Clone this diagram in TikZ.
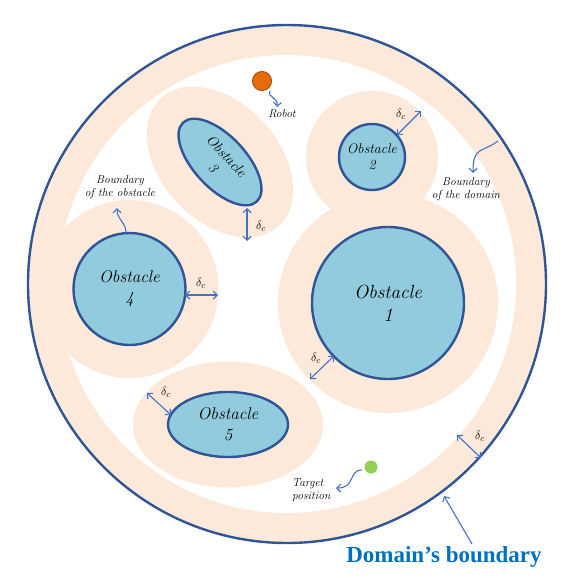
\documentclass[tikz,border=0pt]{standalone}
\usepackage{fontspec}
\newfontfamily\captionfont{Liberation Serif}
\usetikzlibrary{shapes.geometric,arrows.meta}
\definecolor{peach}{RGB}{253,233,218}
\definecolor{obsblue}{RGB}{146,203,221}
\definecolor{edgeblue}{RGB}{47,85,151}
\definecolor{arrowblue}{RGB}{68,114,196}
\definecolor{titleblue}{RGB}{0,112,192}
\definecolor{robotorange}{RGB}{228,108,10}
\definecolor{robotedge}{RGB}{180,70,20}
\definecolor{targetgreen}{RGB}{146,208,80}
\tikzset{
  obst/.style={draw=edgeblue, fill=obsblue, line width=2.4pt, inner sep=0pt, align=center, font=\itshape},
  band/.style={fill=peach, inner sep=0pt},
  gap/.style={draw=arrowblue, line width=1.1pt, {Straight Barb[length=4pt,width=8pt]}-{Straight Barb[length=4pt,width=8pt]}},
  pointer/.style={draw=arrowblue, line width=1.1pt, -{Straight Barb[length=4pt,width=8pt]}},
  note/.style={font=\fontsize{11.5}{13}\selectfont\itshape, align=center, inner sep=0pt},
  dc/.style={font=\fontsize{13}{15}\selectfont, inner sep=0pt},
}
\begin{document}
\begin{tikzpicture}[x=1pt, y=-1pt]
    \useasboundingbox (0, 0) rectangle (574, 578);

    \node[circle, draw=edgeblue, line width=2.4pt, fill=peach, minimum size=518pt, inner sep=0pt] (dom) at (287, 284) {};
    \node[circle, fill=white, minimum size=458pt, inner sep=0pt] (free) at (287, 284) {};

    \node[band, circle, minimum size=220pt] (band1) at (388, 303) {};
    \node[band, circle, minimum size=132pt] (band2) at (372, 157) {};
    \node[band, ellipse, rotate=-47, minimum width=174pt, minimum height=118pt] (band3) at (220, 162) {};
    \node[band, circle, minimum size=178pt] (band4) at (129.5, 289) {};
    \node[band, ellipse, minimum width=190pt, minimum height=126pt] (band5) at (228, 424.5) {};

    \node[obst, circle, minimum size=152pt, font=\fontsize{19}{23}\selectfont\itshape] (o1) at (388, 303) {Obstacle\\1};
    \node[obst, circle, minimum size=66pt, font=\fontsize{14}{16}\selectfont\itshape] (o2) at (372, 157) {Obstacle\\2};
    \node[obst, ellipse, rotate=-47, minimum width=108pt, minimum height=52pt, font=\fontsize{14.5}{18}\selectfont\itshape] (o3) at (220, 162) {Obstacle\\3};
    \node[obst, circle, minimum size=112pt, font=\fontsize{17}{21}\selectfont\itshape] (o4) at (129.5, 289) {Obstacle\\4};
    \node[obst, ellipse, minimum width=120pt, minimum height=65pt, font=\fontsize{17}{21}\selectfont\itshape] (o5) at (228, 424.5) {Obstacle\\5};

    \node[circle, draw=robotedge, fill=robotorange, line width=1pt, minimum size=19pt, inner sep=0pt] (robot) at (262, 81) {};
    \node[circle, fill=targetgreen, minimum size=13pt, inner sep=0pt] (target) at (371, 467) {};

    \node[note] (lrobot) at (282, 114) {Robot};
    \node[note, align=left, anchor=west] (ltarget) at (292, 490) {Target\\position};
    \node[note] (lobst) at (120, 187) {Boundary\\of the obstacle};
    \node[note] (ldom) at (466, 189) {Boundary\\of the domain};
    \node[font=\captionfont\bfseries\fontsize{23}{26}\selectfont, text=titleblue, inner sep=0pt] (title) at (444, 557) {Domain’s boundary};

    \coordinate (r1) at (270, 91);
    \coordinate (r2) at (277, 107);
    \coordinate (t1) at (362, 470);
    \coordinate (t2) at (336, 488);
    \coordinate (b1) at (126, 233);
    \coordinate (b2) at (117, 208);
    \coordinate (d1) at (498, 141);
    \coordinate (d2) at (473, 173);
    \coordinate (k1) at (444, 496);
    \coordinate (k2) at (472, 544);

    \draw[pointer] (r1) .. controls (267, 98) and (278, 96) .. (r2);
    \draw[pointer] (t1) .. controls (348, 470) and (356, 488) .. (t2);
    \draw[pointer] (b1) .. controls (126, 222) and (117, 220) .. (b2);
    \draw[pointer] (d1) .. controls (482, 153) and (473, 146) .. (d2);
    \draw[pointer] (k2) -- (k1);

    \coordinate (g3a) at (247, 208);
    \coordinate (g3b) at (247, 241);
    \coordinate (g2a) at (397, 135);
    \coordinate (g2b) at (421, 111);
    \coordinate (g4a) at (185, 295);
    \coordinate (g4b) at (218, 295);
    \coordinate (g1a) at (334, 356);
    \coordinate (g1b) at (310, 379);
    \coordinate (g5a) at (147, 393);
    \coordinate (g5b) at (171, 415);
    \coordinate (gda) at (457, 435);
    \coordinate (gdb) at (481, 458);

    \draw[gap] (g3a) -- (g3b);
    \draw[gap] (g2a) -- (g2b);
    \draw[gap] (g4a) -- (g4b);
    \draw[gap] (g1a) -- (g1b);
    \draw[gap] (g5a) -- (g5b);
    \draw[gap] (gda) -- (gdb);

    \node[dc] (dc3) at (261, 226) {$\delta_c$};
    \node[dc] (dc2) at (401, 114) {$\delta_c$};
    \node[dc] (dc4) at (201, 283) {$\delta_c$};
    \node[dc] (dc1) at (316, 358) {$\delta_c$};
    \node[dc] (dc5) at (166, 392) {$\delta_c$};
    \node[dc] (dcd) at (480, 436) {$\delta_c$};

  \end{tikzpicture}
\end{document}
